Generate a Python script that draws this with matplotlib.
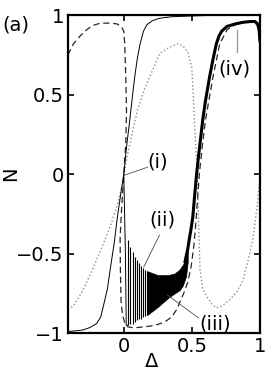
import matplotlib
matplotlib.use('Agg')
import matplotlib.pyplot as plt
import numpy as np

plt.rcParams['font.family'] = ['DejaVu Sans']

# curve (i): thin solid
sol_d = [-0.41, -0.35, -0.3, -0.25, -0.2, -0.17, -0.15, -0.12, -0.1, -0.07, -0.05, -0.025, 0.0,
         0.02, 0.044, 0.065, 0.08, 0.1, 0.12, 0.145, 0.17, 0.21, 0.26, 0.35, 0.5, 0.7, 1.0]
sol_n = [-0.99, -0.985, -0.98, -0.965, -0.94, -0.9, -0.83, -0.72, -0.6, -0.43, -0.29, -0.14, 0.0,
         0.17, 0.34, 0.5, 0.61, 0.73, 0.82, 0.9, 0.94, 0.965, 0.98, 0.99, 0.995, 1.0, 1.0]

# dashed curve
dash_d = [-0.41, -0.37, -0.32, -0.27, -0.23, -0.17, -0.1, -0.05, -0.02, 0.0, 0.007, 0.015, 0.02,
          0.015, 0.0, -0.015, -0.027, -0.025, -0.02, -0.01, 0.005, 0.03, 0.06, 0.1, 0.15, 0.2,
          0.25, 0.3, 0.35, 0.39, 0.44, 0.47, 0.495, 0.515, 0.53, 0.555, 0.58, 0.6, 0.655, 0.705,
          0.76, 0.82, 0.88, 0.95, 1.0]
dash_n = [0.75, 0.82, 0.87, 0.91, 0.935, 0.95, 0.95, 0.945, 0.93, 0.9, 0.82, 0.6, 0.4,
          0.2, 0.0, -0.2, -0.4, -0.6, -0.8, -0.88, -0.93, -0.96, -0.965, -0.965, -0.96, -0.955,
          -0.945, -0.93, -0.9, -0.85, -0.75, -0.68, -0.58, -0.45, -0.3, 0.0, 0.2, 0.34, 0.61, 0.82,
          0.91, 0.94, 0.955, 0.96, 0.95]

# dotted curve
dot_d = [-0.41, -0.37, -0.3, -0.23, -0.16, -0.1, -0.05, -0.015, 0.02, 0.06, 0.1, 0.15, 0.19,
         0.265, 0.32, 0.39, 0.43, 0.47, 0.5, 0.51, 0.52, 0.535, 0.545, 0.56, 0.58, 0.61, 0.65,
         0.68, 0.72, 0.78, 0.83, 0.875, 0.92, 0.95, 0.98, 1.0]
dot_n = [-0.85, -0.83, -0.73, -0.6, -0.46, -0.33, -0.2, -0.08, 0.09, 0.25, 0.4, 0.53, 0.61,
         0.76, 0.79, 0.82, 0.81, 0.77, 0.67, 0.51, 0.3, 0.09, -0.18, -0.6, -0.72, -0.77, -0.82,
         -0.84, -0.83, -0.79, -0.74, -0.67, -0.52, -0.4, -0.2, -0.02]

# curve (ii): drop after zero, then oscillations
drop_d = [0.0, 0.006, 0.012, 0.018, 0.029]
drop_n = [0.0, -0.25, -0.5, -0.95, -0.95]
spike_d = [0.029, 0.049, 0.066, 0.083, 0.098, 0.113, 0.127, 0.142, 0.157, 0.171]
spike_hi = [-0.415, -0.457, -0.49, -0.52, -0.54, -0.56, -0.58, -0.59, -0.60, -0.61]
spike_lo = [-0.95, -0.945, -0.94, -0.933, -0.92, -0.914, -0.908, -0.90, -0.893, -0.887]
band_d = [0.171, 0.25, 0.324, 0.373, 0.41, 0.434, 0.458, 0.47]
band_hi = [-0.61, -0.635, -0.635, -0.625, -0.60, -0.57, -0.53, -0.47]
band_lo = [-0.887, -0.835, -0.78, -0.75, -0.73, -0.70, -0.64, -0.55]

# thick rising curve (ii)-(iv)
thick_d = [0.45, 0.47, 0.483, 0.495, 0.507, 0.52, 0.535, 0.55, 0.565, 0.58, 0.6, 0.63, 0.655,
           0.68, 0.7, 0.72, 0.76, 0.82, 0.875, 0.93, 0.965, 0.985, 0.995, 1.0]
thick_n = [-0.55, -0.47, -0.4, -0.34, -0.27, -0.14, 0.0, 0.12, 0.23, 0.34, 0.46, 0.61, 0.72,
           0.82, 0.87, 0.9, 0.93, 0.945, 0.955, 0.96, 0.96, 0.94, 0.9, 0.84]

fig = plt.figure(figsize=(2.73, 3.79), dpi=100)
ax = fig.add_axes([0.249, 0.121, 0.703, 0.839])

ax.plot(dot_d, dot_n, ':', color='0.55', lw=1.0)
ax.plot(dash_d, dash_n, '--', color='0.15', lw=0.9, dashes=(5, 3))
ax.plot(sol_d, sol_n, '-', color='k', lw=0.7)
ax.plot(drop_d, drop_n, '-', color='k', lw=0.7)
ax.vlines(spike_d, spike_lo, spike_hi, color='k', lw=0.8)
ax.fill_between(band_d, band_lo, band_hi, color='k', lw=0.5)
ax.plot(thick_d, thick_n, '-', color='k', lw=2.2)

# labels for the curves
ax.plot([0.176, 0.007], [0.044, -0.006], '-', color='0.3', lw=0.6)
ax.text(0.25, 0.075, '(i)', fontsize=14, ha='center', va='center')
ax.plot([0.262, 0.147], [-0.384, -0.583], '-', color='0.3', lw=0.6)
ax.text(0.287, -0.29, '(ii)', fontsize=14, ha='center', va='center')
ax.plot([0.55, 0.32], [-0.905, -0.76], '-', color='0.3', lw=0.6)
ax.text(0.67, -0.94, '(iii)', fontsize=14, ha='center', va='center')
ax.plot([0.83, 0.83], [0.905, 0.77], '-', color='0.6', lw=1.0)
ax.text(0.81, 0.66, '(iv)', fontsize=14, ha='center', va='center')

ax.set_xlim(-0.41, 1.0)
ax.set_ylim(-1, 1)
ax.set_xticks([0, 0.5, 1])
ax.set_xticklabels(['0', '0.5', '1'])
ax.set_yticks([-1, -0.5, 0, 0.5, 1])
ax.set_yticklabels(['\u22121', '\u22120.5', '0', '0.5', '1'])
ax.tick_params(direction='in', length=4, width=1.2, top=True, right=True,
               labelsize=14, pad=3)
for s in ax.spines.values():
    s.set_linewidth(1.6)

ax.set_xlabel('\u0394', fontsize=14, va='center')
ax.xaxis.set_label_coords(0.4375, -0.09)
ax.set_ylabel('N', fontsize=14)
ax.yaxis.set_label_coords(-0.25, 0.5)
fig.text(0.058, 0.933, '(a)', fontsize=14, ha='center', va='center')

fig.savefig('out.png', dpi=100)
